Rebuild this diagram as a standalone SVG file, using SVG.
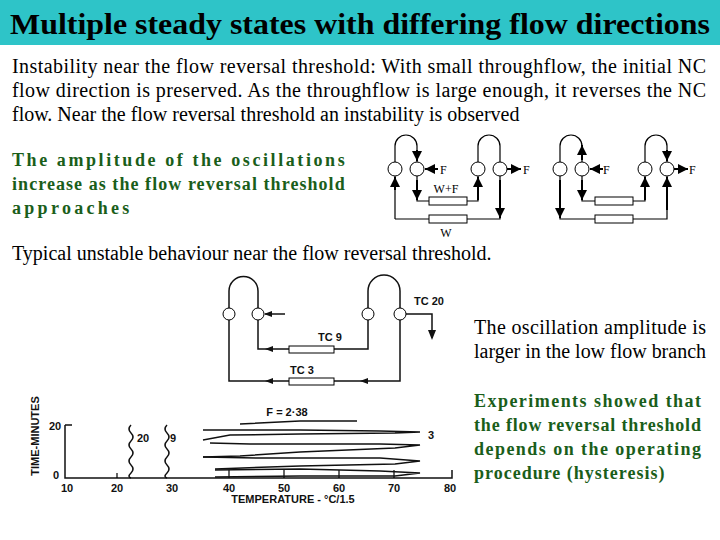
<svg xmlns="http://www.w3.org/2000/svg" width="720" height="540" viewBox="0 0 720 540">
<defs>
<marker id="ah" viewBox="0 0 10 10" refX="10" refY="5" markerWidth="5" markerHeight="5" orient="auto"><path d="M0,0L10,5L0,10z" fill="#000"/></marker>
<style>
.t{font-family:"Liberation Serif",serif;font-size:20px;fill:#000}
.g{font-family:"Liberation Serif",serif;font-size:18px;font-weight:bold;fill:#1a5e1a;letter-spacing:3.3px}
.g2{font-family:"Liberation Serif",serif;font-size:18px;font-weight:bold;fill:#1a5e1a;letter-spacing:1px}
.s{fill:none;stroke:#000;stroke-width:1.2}
.b{fill:none;stroke:#000;stroke-width:2}
.c{fill:#fff;stroke:#000;stroke-width:1}
.r{fill:#fff;stroke:#000;stroke-width:1}
.l{font-family:"Liberation Serif",serif;font-size:12px;fill:#000}
.h{font-family:"Liberation Sans",sans-serif;font-size:11px;font-weight:bold;fill:#111}
.p{fill:none;stroke:#111;stroke-width:1.5}
</style>
</defs>
<rect width="720" height="540" fill="#fff"/>
<rect x="0" y="0" width="720" height="45" fill="#2ec4c8"/>
<text x="10" y="34" font-family="Liberation Serif,serif" font-size="29" font-weight="bold" textLength="700" lengthAdjust="spacingAndGlyphs">Multiple steady states with differing flow directions</text>
<text class="t" x="12" y="73" textLength="694">Instability near the flow reversal threshold: With small throughflow, the initial NC</text>
<text class="t" x="12" y="97" textLength="694">flow direction is preserved. As the throughflow is large enough, it reverses the NC</text>
<text class="t" x="12" y="121">flow. Near the flow reversal threshold an instability is observed</text>
<text class="g" x="12" y="166" textLength="336">The amplitude of the oscillations</text>
<text class="g" x="12" y="190" textLength="336">increase as the flow reversal threshold</text>
<text class="g" x="12" y="214">approaches</text>
<text class="t" x="12" y="260">Typical unstable behaviour near the flow reversal threshold.</text>
<text class="t" x="474" y="334" font-size="18" textLength="232">The oscillation amplitude is</text>
<text class="t" x="474" y="358" font-size="18" textLength="232">larger in the low flow branch</text>
<text class="g2" x="474" y="407" textLength="228">Experiments showed that</text>
<text class="g2" x="474" y="431" textLength="228">the flow reversal threshold</text>
<text class="g2" x="474" y="455" textLength="228">depends on the operating</text>
<text class="g2" x="474" y="479">procedure (hysteresis)</text>

<g id="schematic1">
<g id="conn1">
<path class="s" d="M395,162V146A11,11 0 0 1 417,146V162M478,162V146A11,11 0 0 1 500,146V162"/>
<path class="b" d="M417,150V161" marker-end="url(#ah)"/>
<path class="s" d="M395,219V176M417,176V201H429M467,201H478V176M500,176V219H467M429,219H395"/>
<path class="b" d="M395,190V177" marker-end="url(#ah)"/>
<path class="b" d="M417,180V200" marker-end="url(#ah)"/>
<path class="b" d="M478,200V177" marker-end="url(#ah)"/>
<path class="b" d="M500,180V218" marker-end="url(#ah)"/>
<path class="b" d="M438,169H425" marker-end="url(#ah)"/>
<path class="b" d="M507,169H521" marker-end="url(#ah)"/>
</g>
<circle class="c" cx="395" cy="169" r="7"/><circle class="c" cx="417" cy="169" r="7"/>
<circle class="c" cx="478" cy="169" r="7"/><circle class="c" cx="500" cy="169" r="7"/>
<rect class="r" x="429" y="197" width="38" height="8"/><rect class="r" x="429" y="215" width="38" height="8"/>
<text class="l" x="440" y="174">F</text><text class="l" x="523" y="174">F</text>
<text class="l" x="446" y="193" text-anchor="middle">W+F</text>
<text class="l" x="446" y="237" text-anchor="middle">W</text>
</g>

<g id="schematic2">
<g id="conn2">
<path class="s" d="M560,162V146A11,11 0 0 1 582,146V162M645,162V146A11,11 0 0 1 667,146V162"/>
<path class="b" d="M582,160V145" marker-end="url(#ah)"/>
<path class="b" d="M667,150V161" marker-end="url(#ah)"/>
<path class="s" d="M560,176V219H595M633,219H667V176M582,176V201H595M633,201H645V176"/>
<path class="b" d="M560,180V218" marker-end="url(#ah)"/>
<path class="b" d="M582,180V200" marker-end="url(#ah)"/>
<path class="b" d="M645,200V177" marker-end="url(#ah)"/>
<path class="b" d="M667,210V177" marker-end="url(#ah)"/>
<path class="b" d="M603,169H590" marker-end="url(#ah)"/>
<path class="b" d="M674,169H688" marker-end="url(#ah)"/>
</g>
<circle class="c" cx="560" cy="169" r="7"/><circle class="c" cx="582" cy="169" r="7"/>
<circle class="c" cx="645" cy="169" r="7"/><circle class="c" cx="667" cy="169" r="7"/>
<rect class="r" x="595" y="197" width="38" height="8"/><rect class="r" x="595" y="215" width="38" height="8"/>
<text class="l" x="603" y="174">F</text><text class="l" x="689" y="174">F</text>
</g>

<g id="loop">
<g id="conn3">
<path class="p" d="M229,308V291A14.5,14.5 0 0 1 258,291V308M368,308V291A16,16 0 0 1 400,291V308"/>
<path class="p" d="M229,320V381H289M334,381H400V320M258,320V349H289M334,349H368V320"/>
<path class="p" d="M406,314H432V338"/>
<path d="M428,330L432,340L436,330z" fill="#111"/>
<path class="p" d="M285,314H265"/>
<path d="M264,314L272,311V317z" fill="#111"/>
<path d="M265,349l8,-3v6zM265,381l8,-3v6zM360,381l8,-3v6z" fill="#111"/>
</g>
<circle class="c" cx="229" cy="314" r="6" stroke-width="1.5"/><circle class="c" cx="258" cy="314" r="6" stroke-width="1.5"/>
<circle class="c" cx="368" cy="314" r="6" stroke-width="1.5"/><circle class="c" cx="400" cy="314" r="6" stroke-width="1.5"/>
<rect class="r" x="289" y="346" width="45" height="7" stroke-width="1.3"/><rect class="r" x="289" y="378" width="45" height="7" stroke-width="1.3"/>
<text class="h" x="318" y="341">TC 9</text><text class="h" x="290" y="374">TC 3</text><text class="h" x="414" y="305">TC 20</text>
</g>

<g id="chart">
<path class="p" d="M65,425H72M65,425V478H452V470"/>
<path class="s" d="M117,478V473M229,478V470M284,478V470M339,478V470M394,478V470"/>
<text class="h" x="55" y="430" text-anchor="middle">20</text><text class="h" x="56" y="479" text-anchor="middle">0</text>
<g class="h" text-anchor="middle">
<text x="67" y="492">10</text><text x="117" y="492">20</text><text x="172" y="492">30</text><text x="229" y="492">40</text><text x="284" y="492">50</text><text x="339" y="492">60</text><text x="394" y="492">70</text><text x="450" y="492">80</text>
</g>
<text class="h" x="293" y="503" text-anchor="middle" font-size="12">TEMPERATURE - °C/1.5</text>
<text class="h" x="39" y="436" text-anchor="middle" font-size="12" transform="rotate(-90 39 436)">TIME-MINUTES</text>
<path class="p" d="M131,425q-4,4 0,8t0,8t0,8t0,8t0,8t0,8t0,5M167,425q-4,4 0,8t0,8t0,8t0,8t0,8t0,8t0,5"/>
<text class="h" x="137" y="442">20</text><text class="h" x="170" y="442">9</text>
<text class="h" x="287" y="416" text-anchor="middle">F = 2·38</text>
<text class="h" x="428" y="439">3</text>
<path class="p" d="M240,424L300,421H357"/>
<path class="p" d="M203,430H300L380,431L420,432L395,433L300,434L230,435L203,440"/>
<path class="p" d="M210,443L250,444H380L420,445L395,448L300,452L240,456L203,457"/>
<path class="p" d="M203,457L260,458H380L420,461L395,464L300,466L215,469"/>
<path class="p" d="M215,470L300,469L380,471L420,473L395,476H300L215,477"/>
</g>
</svg>
